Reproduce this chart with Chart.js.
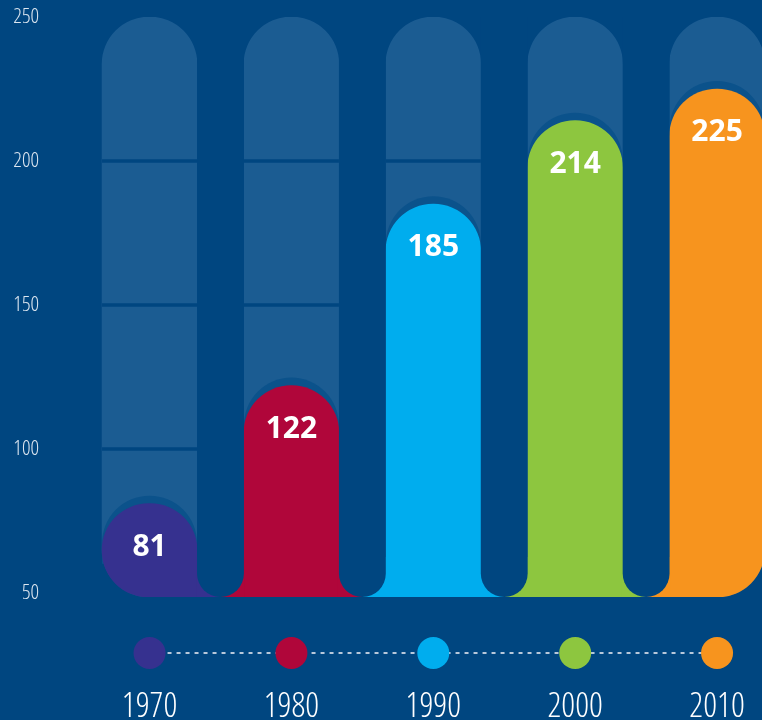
<!DOCTYPE html>
<html><head><meta charset="utf-8">
<script src="https://cdn.jsdelivr.net/npm/chart.js@4.4.1/dist/chart.umd.min.js"></script>
<style>
html,body{margin:0;padding:0;background:#004680;overflow:hidden;}
#wrap{position:relative;width:788px;height:720px;}
</style></head><body>
<div id="wrap"><canvas id="c"></canvas></div>
<script>
// ---- data ----
const categories = ['1970', '1980', '1990', '2000', '2010'];
const values = [81, 122, 185, 214, 225];
const barColors = ['#36318f', '#b0063a', '#00adee', '#8dc63f', '#f7941e'];
const yTicks = [50, 100, 150, 200, 250];
const yMin = 48.6;
const yMax = 250;

// ---- style ----
const BG = '#004680', TRACK = '#1b5c92', CAP = '#0b528b';
const BAR_W = 95, R = 47.5;
const FAMILY = '"Open Sans", sans-serif';
const CLEAR = 'rgba(0,0,0,0)';

const trackValues = categories.map(() => yMax);
const radiusFor = (c) => ({
  topLeft: R, topRight: R,
  bottomLeft: c.dataIndex === 0 ? R : 0,
  bottomRight: c.dataIndex === categories.length - 1 ? R : 0
});

function topRound(ctx, l, t, w, b, r) {
  ctx.beginPath();
  ctx.moveTo(l, b);
  ctx.lineTo(l, t + r);
  ctx.arc(l + r, t + r, r, Math.PI, 1.5 * Math.PI);
  ctx.lineTo(l + w - r, t);
  ctx.arc(l + w - r, t + r, r, 1.5 * Math.PI, 2 * Math.PI);
  ctx.lineTo(l + w, b);
  ctx.closePath();
}

const decor = {
  id: 'decor',
  afterDatasetDraw(chart, args) {
    const ctx = chart.ctx;
    const ys = chart.scales.y;
    const bottom = chart.chartArea.bottom;
    if (args.index === 0) {
      const els = args.meta.data;
      ctx.save();
      ctx.strokeStyle = BG;
      ctx.lineWidth = 3.5;
      yTicks.forEach(v => {
        if (v <= yTicks[0] || v >= yMax) return;
        const py = ys.getPixelForValue(v);
        els.forEach(el => {
          ctx.beginPath();
          ctx.moveTo(el.x - el.width / 2, py);
          ctx.lineTo(el.x + el.width / 2, py);
          ctx.stroke();
        });
      });
      // darker caps just above each value bar
      ctx.fillStyle = CAP;
      chart.getDatasetMeta(1).data.forEach(el => {
        const l = el.x - el.width / 2;
        topRound(ctx, l, el.y - 8, el.width, Math.min(el.y + 60, bottom - 20), el.width / 2);
        ctx.fill();
      });
      ctx.restore();
    }
    if (args.index === 1) {
      const els = args.meta.data;
      const top = chart.chartArea.top;
      ctx.save();
      for (let i = 0; i < els.length - 1; i++) {
        const a = els[i], b = els[i + 1];
        const mid = (a.x + b.x) / 2;
        const aR = a.x + a.width / 2, bL = b.x - b.width / 2;
        ctx.fillStyle = barColors[i];
        ctx.fillRect(aR - 1, bottom - 40, mid - aR + 1, 40);
        ctx.fillStyle = barColors[i + 1];
        ctx.fillRect(mid, bottom - 40, bL - mid + 1, 40);
        const pr = (bL - aR) / 2;
        ctx.fillStyle = BG;
        ctx.beginPath();
        ctx.moveTo(aR, top);
        ctx.lineTo(aR, bottom - pr);
        ctx.arc(mid, bottom - pr, pr, Math.PI, 0, true);
        ctx.lineTo(bL, top);
        ctx.closePath();
        ctx.fill();
      }
      ctx.restore();
    }
  },
  afterDraw(chart) {
    const ctx = chart.ctx;
    const meta = chart.getDatasetMeta(1).data;
    ctx.save();
    ctx.fillStyle = '#ffffff';
    ctx.font = 'bold 30px "Open Sans", sans-serif';
    ctx.textAlign = 'center';
    ctx.textBaseline = 'alphabetic';
    meta.forEach((el, i) => ctx.fillText(String(values[i]), el.x, el.y + 52));
    // timeline dots
    const xs = chart.scales.x;
    const dy = chart.chartArea.bottom + 56;
    ctx.strokeStyle = '#b8c8da';
    ctx.lineWidth = 2;
    ctx.setLineDash([4, 5]);
    ctx.beginPath();
    ctx.moveTo(xs.getPixelForValue(0), dy);
    ctx.lineTo(xs.getPixelForValue(categories.length - 1), dy);
    ctx.stroke();
    ctx.setLineDash([]);
    categories.forEach((c, i) => {
      ctx.fillStyle = barColors[i];
      ctx.beginPath();
      ctx.arc(xs.getPixelForValue(i), dy, 16, 0, 2 * Math.PI);
      ctx.fill();
    });
    ctx.restore();
  }
};

new Chart(document.getElementById('c'), {
  type: 'bar',
  data: {
    labels: categories,
    datasets: [
      {
        data: trackValues,
        base: yMin,
        backgroundColor: TRACK,
        barThickness: BAR_W,
        borderRadius: radiusFor,
        borderSkipped: false,
        grouped: false,
        order: 2
      },
      {
        data: values,
        base: yMin,
        backgroundColor: barColors,
        barThickness: BAR_W,
        borderRadius: radiusFor,
        borderSkipped: false,
        grouped: false,
        order: 1
      }
    ]
  },
  options: {
    responsive: true,
    maintainAspectRatio: false,
    animation: false,
    layout: { padding: { top: 17, right: 0, left: 0, bottom: 0 } },
    plugins: { legend: { display: false }, tooltip: { enabled: false } },
    scales: {
      x: {
        offset: true,
        grid: { display: true, drawOnChartArea: false, drawTicks: true, tickLength: 90, color: CLEAR },
        border: { display: false },
        ticks: { color: '#ffffff', font: { family: FAMILY, size: 34, weight: '300 condensed' }, padding: 0 },
        afterFit: s => { s.height = 123; }
      },
      y: {
        min: yMin, max: yMax,
        afterBuildTicks: s => { s.ticks = yTicks.map(v => ({ value: v })); },
        afterFit: s => { s.width = 78.6; },
        grid: { display: true, drawOnChartArea: false, drawTicks: true, tickLength: 39.6, color: CLEAR },
        border: { display: false },
        ticks: { color: '#dce6f0', font: { family: FAMILY, size: 21, weight: '300 condensed' }, padding: 0 }
      }
    }
  },
  plugins: [decor]
});
</script>
</body></html>
